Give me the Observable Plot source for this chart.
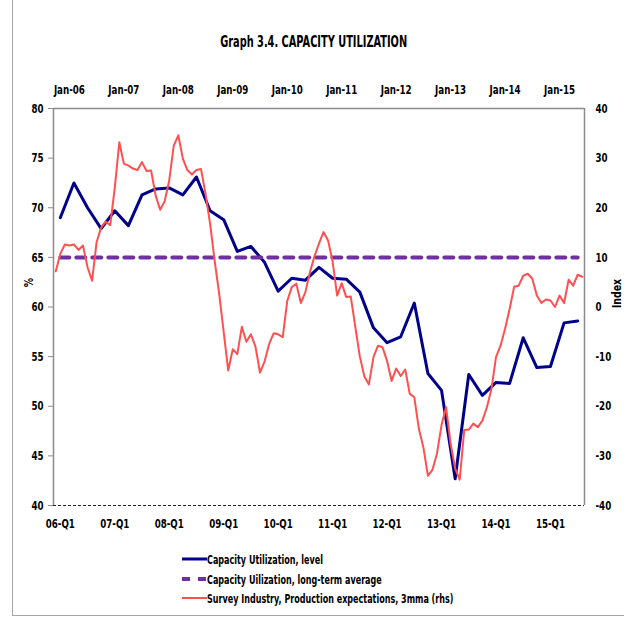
<!DOCTYPE html>
<html><head><meta charset="utf-8">
<script src="https://cdn.jsdelivr.net/npm/d3@7"></script>
<script src="https://cdn.jsdelivr.net/npm/@observablehq/plot@0.6"></script>
<style>
body{margin:0;background:#fff;}
#wrap{position:relative;width:624px;height:620px;overflow:hidden;font-family:"Liberation Sans Narrow","DejaVu Sans Condensed","Arial Narrow",sans-serif;color:#000;}
#frame{position:absolute;left:12px;top:-2px;width:620px;height:617px;border-left:1px solid #a6a6a6;border-bottom:1px solid #a6a6a6;}
#title{position:absolute;left:2px;width:624px;top:33px;text-align:center;font-weight:bold;font-size:15px;}
#title span{display:inline-block;transform-origin:center;}
#chart{position:absolute;left:0;top:0;}
.ylab{position:absolute;font-weight:bold;font-size:13px;transform:rotate(-90deg) scaleX(0.8);transform-origin:center;white-space:nowrap;}
.leg{position:absolute;left:182px;font-weight:bold;font-size:12.5px;display:flex;align-items:center;white-space:nowrap;height:16px;}
.leg span{display:inline-block;transform-origin:left center;}
</style>
</head><body>
<div id="wrap">
  <div id="frame"></div>
  <div id="title"><span>Graph 3.4. CAPACITY UTILIZATION</span></div>
  <div id="chart"></div>
  <div class="ylab" style="left:23px;top:275px;">%</div>
  <div class="ylab" style="left:598px;top:286px;">Index</div>
  <div id="legend"></div>
</div>
<script>
// Quarterly categories (bottom axis) and capacity utilization level (%)
const quarterLabels = ["06-Q1","06-Q2","06-Q3","06-Q4","07-Q1","07-Q2","07-Q3","07-Q4","08-Q1","08-Q2","08-Q3","08-Q4",
  "09-Q1","09-Q2","09-Q3","09-Q4","10-Q1","10-Q2","10-Q3","10-Q4","11-Q1","11-Q2","11-Q3","11-Q4",
  "12-Q1","12-Q2","12-Q3","12-Q4","13-Q1","13-Q2","13-Q3","13-Q4","14-Q1","14-Q2","14-Q3","14-Q4",
  "15-Q1","15-Q2","15-Q3"];
const capacityLevel = [69.0, 72.5, 70.0, 67.9, 69.7, 68.2, 71.3, 71.9, 72.0, 71.3, 73.1, 69.7,
  68.8, 65.6, 66.1, 64.5, 61.6, 62.9, 62.7, 64.0, 62.9, 62.8, 61.5, 57.9,
  56.4, 57.0, 60.4, 53.3, 51.6, 42.7, 53.2, 51.1, 52.4, 52.3, 56.9, 53.9,
  54.0, 58.4, 58.6];
const longTermAverage = 65;

// Monthly series (top axis): Survey Industry, production expectations, 3mma (rhs), Oct-05 .. Jun-15
const surveyStart = {year: 2005, month: 9}; // Oct-05 (0-based month)
const surveyExpectations = [7.2, 10.7, 12.6, 12.4, 12.6, 11.5, 12.4, 8.0, 5.3, 13.1, 16.0, 17.2,
  16.5, 24.0, 33.2, 28.9, 28.5, 27.9, 27.6, 29.2, 27.4, 27.5, 22.5, 19.6,
  21.3, 25.5, 32.5, 34.6, 29.9, 27.6, 26.7, 27.6, 27.8, 22.8, 16.8, 9.4,
  2.7, -5.0, -12.8, -8.5, -9.5, -4.0, -7.0, -5.5, -8.0, -13.2, -11.0, -7.5,
  -5.3, -5.5, -6.1, 1.2, 4.0, 4.7, 0.8, 3.0, 7.0, 10.2, 12.8, 15.1,
  13.4, 9.2, 2.3, 4.8, 2.0, 2.1, -4.0, -10.0, -14.0, -15.6, -10.1, -7.8,
  -8.1, -10.9, -14.9, -12.4, -13.9, -12.6, -17.5, -18.2, -24.5, -28.3, -34.0, -32.8,
  -29.5, -23.8, -20.2, -27.6, -32.5, -34.8, -24.8, -24.7, -23.5, -24.2, -22.9, -20.2,
  -16.5, -10.1, -7.8, -4.4, -0.4, 4.1, 4.3, 6.3, 6.7, 5.7, 2.3, 0.8,
  1.5, 1.3, 0.0, 2.3, 0.8, 5.5, 4.3, 6.5, 6.1];

const leftTicks = [40, 45, 50, 55, 60, 65, 70, 75, 80];
const bottomTickLabels = ["06-Q1","07-Q1","08-Q1","09-Q1","10-Q1","11-Q1","12-Q1","13-Q1","14-Q1","15-Q1"];
const topTickLabels = ["Jan-06","Jan-07","Jan-08","Jan-09","Jan-10","Jan-11","Jan-12","Jan-13","Jan-14","Jan-15"];

const legendItems = [
  {label: "Capacity Utilization, level", color: "#00008b", width: 3, dash: null},
  {label: "Capacity Uilization, long-term average", color: "#7030a0", width: 4, dash: "8,8"},
  {label: "Survey Industry, Production expectations, 3mma (rhs)", color: "#ff5050", width: 2, dash: null}
];

// Tables: primary category axis has 39 quarterly bands, secondary has 117 monthly bands over the same width
const nQ = quarterLabels.length;
const nM = surveyExpectations.length;
const monthNames = ["Jan","Feb","Mar","Apr","May","Jun","Jul","Aug","Sep","Oct","Nov","Dec"];
const qData = quarterLabels.map((q, j) => ({q, pos: j + 0.5, level: capacityLevel[j], avg: longTermAverage}));
const mData = surveyExpectations.map((v, i) => {
  const m = surveyStart.month + i;
  const yr = surveyStart.year + Math.floor(m / 12);
  return {label: monthNames[m % 12] + "-" + String(yr).slice(2), pos: (i + 0.5) * nQ / nM, v};
});
const rhsToLhs = v => 60 + v / 2;
const lhsToRhs = d => String((d - 60) * 2);

const bottomPos = new Map(qData.filter(d => bottomTickLabels.includes(d.q)).map(d => [d.pos, d.q]));
const topPos = new Map(mData.filter(d => topTickLabels.includes(d.label)).map(d => [d.pos, d.label]));

const font = '"Liberation Sans Narrow","DejaVu Sans Condensed","Arial Narrow",sans-serif';
const gray = "#8c8c8c";

const chart = Plot.plot({
  width: 624, height: 620,
  marginLeft: 53, marginRight: 40, marginTop: 108, marginBottom: 115,
  style: {fontFamily: font, fontSize: "13px", fontWeight: "bold", background: "transparent", color: "#000"},
  x: {type: "linear", domain: [0, nQ]},
  y: {domain: [40, 80]},
  marks: [
    Plot.ruleY([80], {stroke: gray, strokeWidth: 1.5}),
    Plot.ruleX([0], {stroke: gray, strokeWidth: 1.5}),
    Plot.ruleX([nQ], {stroke: gray, strokeWidth: 1.5}),
    Plot.ruleY([40], {stroke: "#222", strokeWidth: 1, strokeDasharray: "3,2"}),
    Plot.axisY(leftTicks, {anchor: "left", tickSize: 5, tickPadding: 5, stroke: gray, label: null}),
    Plot.axisY(leftTicks, {anchor: "right", tickSize: 0, tickPadding: 11, tickFormat: lhsToRhs, label: null}),
    Plot.axisX([...bottomPos.keys()], {anchor: "bottom", tickSize: 0, tickPadding: 13, tickFormat: d => bottomPos.get(d), label: null}),
    Plot.axisX([...topPos.keys()], {anchor: "top", tickSize: 0, tickPadding: 15, tickFormat: d => topPos.get(d), label: null}),
    Plot.line(qData, {x: "pos", y: "level", stroke: "#00008b", strokeWidth: 3, strokeLinejoin: "round"}),
    Plot.line(qData, {x: "pos", y: "avg", stroke: "#7030a0", strokeWidth: 4, strokeDasharray: "9,7"}),
    Plot.line(mData, {x: "pos", y: d => rhsToLhs(d.v), stroke: "#ff5050", strokeWidth: 2, strokeLinejoin: "round"})
  ]
});
document.getElementById("chart").appendChild(chart);

// Condense the tick labels horizontally to approximate the narrow original face
const texts = Array.from(chart.querySelectorAll("text"));
const ref = texts.find(t => t.textContent === "Jan-06");
const factor = ref ? Math.min(1, 31 / ref.getComputedTextLength()) : 0.8;
texts.forEach(t => {
  const L = t.getComputedTextLength();
  if (L > 0) {
    t.setAttribute("textLength", (L * factor).toFixed(2));
    t.setAttribute("lengthAdjust", "spacingAndGlyphs");
  }
});

// Title condensed to original width
const tspan = document.querySelector("#title span");
tspan.style.transform = `scaleX(${Math.min(1, 187 / tspan.getBoundingClientRect().width)})`;

const legend = document.getElementById("legend");
const legendY = [551, 571, 590];
let legFactor = null;
legendItems.forEach((it, k) => {
  const row = document.createElement("div");
  row.className = "leg";
  row.style.top = legendY[k] + "px";
  row.innerHTML = `<svg width="25" height="16"><line x1="0" x2="25" y1="8" y2="8" stroke="${it.color}" stroke-width="${it.width}" ${it.dash ? `stroke-dasharray="${it.dash}"` : ""}/></svg><span>${it.label}</span>`;
  legend.appendChild(row);
  const s = row.querySelector("span");
  if (legFactor === null) legFactor = Math.min(1, 116 / s.getBoundingClientRect().width);
  s.style.transform = `scaleX(${legFactor})`;
});
</script>
</body></html>
